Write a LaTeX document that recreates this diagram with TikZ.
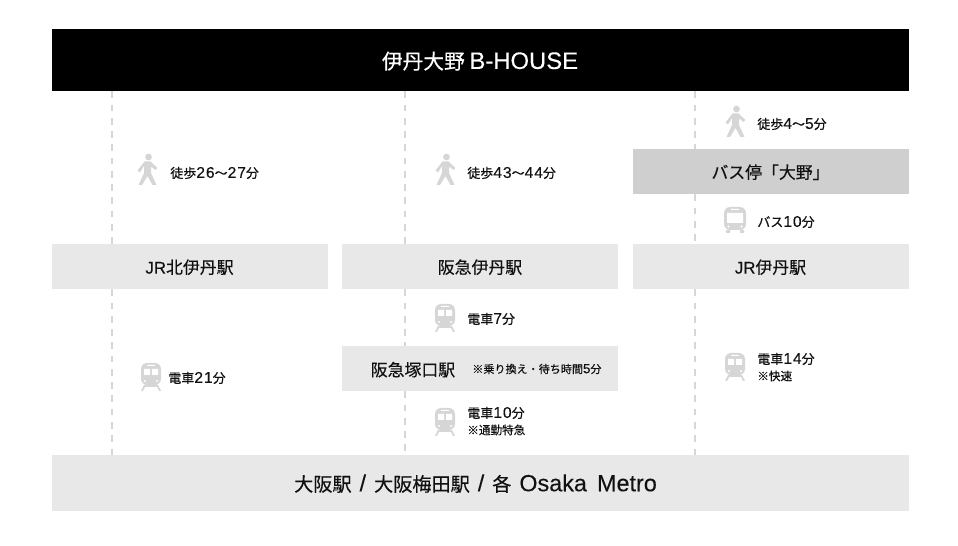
\documentclass[tikz,border=0pt]{standalone}
\usepackage{fontspec}
\setmainfont{Noto Sans CJK JP}[FakeBold=0.35]
\newfontfamily\latplain{Liberation Sans}[FakeBold=0.2]
\newfontfamily\latbig{Liberation Sans}[Scale=1.15,FakeBold=0.2]
\newfontfamily\latwide{Liberation Sans}[Scale=1.22,FakeBold=0.2]
\newfontfamily\latnum{Liberation Sans}[Scale=1.2,LetterSpace=6,FakeBold=0.2]
\definecolor{stopgray}{HTML}{E8E8E8}
\definecolor{busgray}{HTML}{CFCFCF}
\definecolor{icongray}{HTML}{D6D6D6}
\definecolor{inkgray}{HTML}{111111}
\def\gapw{\hspace{2.1pt}}
\begin{document}
\begin{tikzpicture}[x=0.02cm, y=-0.02cm, text=inkgray,
box/.style={minimum width=276*0.02cm, minimum height=45*0.02cm, inner sep=0pt, text height=9.2pt, text depth=1.1pt, font=\fontsize{9.6}{11}\selectfont},
stop/.style={box, fill=stopgray},
busstop/.style={box, fill=busgray},
wide/.style={box, minimum width=857*0.02cm},
lab/.style={anchor=west, inner sep=0pt, font=\fontsize{7.4}{8}\selectfont},
note/.style={anchor=west, inner sep=0pt, font=\fontsize{6.6}{7}\selectfont},
route/.style={draw=icongray, line width=1.7pt, dash pattern=on 3.8pt off 3.75pt},
walker/.pic={
  \fill[icongray] (1.5,-13) circle (3.4);
  \fill[icongray] (-2.5,-8.5) -- (3.5,-8.5) -- (10.5,-2) -- (8.5,0) -- (4,-3.5) -- (4,3) -- (9.5,15)
    -- (5.5,15) -- (0.5,6) -- (-5,15) -- (-8.5,15) -- (-3,3) -- (-3,-4) -- (-7,2.5) -- (-9.5,0.5) -- cycle;
},
trainicon/.pic={
  \fill[icongray, rounded corners=3.5] (-10,-13) rectangle (10,9);
  \fill[white] (-7,-7) rectangle (-1,-1) (1,-7) rectangle (7,-1) (-4,-11) rectangle (4,-10);
  \fill[white] (-6,5) circle (1.2) (6,5) circle (1.2);
  \fill[icongray] (-7,9) -- (7,9) -- (10,15) -- (8,15) -- (6,11) -- (-6,11) -- (-8,15) -- (-10,15) -- cycle;
},
busicon/.pic={
  \fill[icongray, rounded corners=3.5] (-11,-13) rectangle (11,10);
  \fill[icongray] (-9,10) rectangle (-5,13) (5,10) rectangle (9,13);
  \fill[white] (-8,-7) rectangle (8,3) (-4,-11) rectangle (4,-10);
  \fill[white] (-6.5,6.5) circle (1.2) (6.5,6.5) circle (1.2);
}]
\useasboundingbox (0,0) rectangle (958,546);
% Route lines
\coordinate (lineA) at (112,0);
\coordinate (lineB) at (405,0);
\coordinate (lineC) at (695,0);
% Stations
\node[wide, fill=black, text=white, font=\fontsize{11.8}{14}\selectfont, text height=11.5pt, text depth=1.3pt, minimum height=62*0.02cm] (house) at (480,60) {伊丹大野 {\latbig B-HOUSE}};
\node[stop] (kitaitami) at (189.5,266.5) {{\latplain JR}北伊丹駅};
\node[stop] (hankyuitami) at (480,266.5) {阪急伊丹駅};
\node[stop] (jritami) at (770.5,266.5) {{\latplain JR}伊丹駅};
\node[busstop] (ono) at (770.5,171.5) {バス停「大野」};
\node[stop] (tsukaguchi) at (480,368.5) {};
\node[inner sep=0pt, text height=9.2pt, text depth=1.1pt, font=\fontsize{9.6}{11}\selectfont] (tsukaguchiname) at (413,369) {阪急塚口駅};
\node[note, font=\fontsize{6.3}{8}\selectfont] (transfer) at (472,369) {※乗り換え・待ち時間{\latnum 5}分};
\node[wide, fill=stopgray, minimum height=56*0.02cm] (osaka) at (480,483) {};
\node[inner sep=0pt, font=\fontsize{10.9}{13}\selectfont, text height=10.6pt, text depth=1.2pt] (osakaname) at (475.5,483) {大阪駅\gapw{} {\latwide /}\gapw{} 大阪梅田駅\gapw{} {\latwide /}\gapw{} 各\gapw{} {\latwide Osaka\gapw{} Metro}};
% Connectors
\draw[route] (lineA |- house.south) -- (lineA |- kitaitami.north);
\draw[route] (lineA |- kitaitami.south) -- (lineA |- osaka.north);
\draw[route] (lineB |- house.south) -- (lineB |- hankyuitami.north);
\draw[route] (lineB |- hankyuitami.south) -- (lineB |- tsukaguchi.north);
\draw[route] (lineB |- tsukaguchi.south) -- (lineB |- osaka.north);
\draw[route] (lineC |- house.south) -- (lineC |- ono.north);
\draw[route] (lineC |- ono.south) -- (lineC |- jritami.north);
\draw[route] (lineC |- jritami.south) -- (lineC |- osaka.north);
% Icons
\pic at (147,170) {walker};
\pic at (445,170) {walker};
\pic at (735,122) {walker};
\pic at (735,220) {busicon};
\pic at (151,376) {trainicon};
\pic at (445,317) {trainicon};
\pic at (445,421) {trainicon};
\pic at (735,366) {trainicon};
% Times
\node[lab] (walkA) at (170,173) {徒歩{\latnum 26}〜{\latnum 27}分};
\node[lab] (walkB) at (467,173) {徒歩{\latnum 43}〜{\latnum 44}分};
\node[lab] (walkC) at (757,124) {徒歩{\latnum 4}〜{\latnum 5}分};
\node[lab] (busC) at (757,222) {バス{\latnum 10}分};
\node[lab] (trainA) at (168,378) {電車{\latnum 21}分};
\node[lab] (trainB) at (467,319) {電車{\latnum 7}分};
\node[lab] (trainD) at (467,413) {電車{\latnum 10}分};
\node[note] (noteD) at (467,430) {※通勤特急};
\node[lab] (trainC) at (757,359) {電車{\latnum 14}分};
\node[note] (noteC) at (757,376) {※快速};
\end{tikzpicture}
\end{document}
